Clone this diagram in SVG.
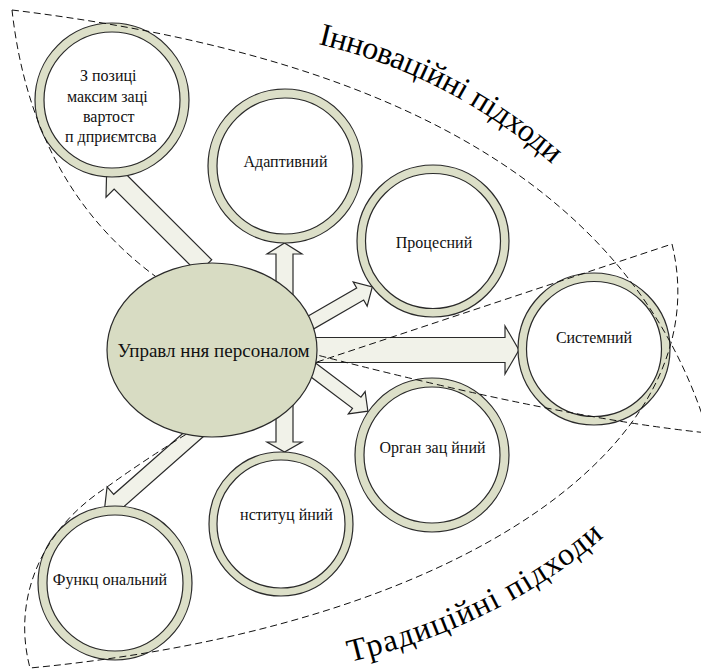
<svg xmlns="http://www.w3.org/2000/svg" width="701" height="670" viewBox="0 0 701 670" font-family="Liberation Serif, Tinos, Times New Roman, Times, DejaVu Serif, Noto Serif, FreeSerif, serif">
<style>
.ring{fill:#dcdfc8;stroke:#2a2a2a;stroke-width:1.2}
.inner{fill:#ffffff;stroke:#2a2a2a;stroke-width:1.2}
.arr{fill:#f1f2e9;stroke:#2a2a2a;stroke-width:1.2}
.dash{fill:none;stroke:#111;stroke-width:1;stroke-dasharray:7 4}
.lbl{font-size:16px;fill:#111}
.mid{text-anchor:middle}
.big{font-size:32px;fill:#000}
</style>
<defs>
<path id="pInn" d="M318,44 Q462,78 572,182"/>
<path id="pTrad" d="M350,662 Q508,624 614,528"/>
</defs>
<g id="connectors">
<polygon class="arr" points="0,-9.5 119,-9.5 119,-21 139,0 119,21 119,9.5 0,9.5" transform="translate(205,266.5) rotate(225)"/>
<polygon class="arr" points="0,-8.5 46,-8.5 46,-17.5 57,0 46,17.5 46,8.5 0,8.5" transform="translate(284.5,300) rotate(-90)"/>
<polygon class="arr" points="0,-7 66,-7 66,-14 80,0 66,14 66,7 0,7" transform="translate(303,327) rotate(-30)"/>
<polygon class="arr" points="0,-12.5 205,-12.5 205,-24 219,0 205,24 205,12.5 0,12.5" transform="translate(300,350)"/>
<polygon class="arr" points="0,-7 66,-7 66,-14 80,0 66,14 66,7 0,7" transform="translate(304,363) rotate(37)"/>
<polygon class="arr" points="0,-8.5 42,-8.5 42,-17.5 52,0 42,17.5 42,8.5 0,8.5" transform="translate(284.5,400) rotate(90)"/>
<polygon class="arr" points="0,-8 132,-8 132,-18 152,0 132,18 132,8 0,8" transform="translate(218,413) rotate(138.6)"/>
</g>
<g id="n-pozytsii">
<circle class="ring" cx="112" cy="100" r="77"/><circle class="inner" cx="112" cy="100" r="68"/>
<text class="lbl" x="80" y="81">З позиці</text>
<text class="lbl" x="67" y="102">максим заці</text>
<text class="lbl" x="83" y="122">вартост</text>
<text class="lbl" x="65" y="142">п дприємтсва</text>
</g>
<g id="n-adaptyvnyi">
<circle class="ring" cx="285" cy="166" r="77"/><circle class="inner" cx="285" cy="166" r="68"/>
<text class="lbl mid" x="285.5" y="167">Адаптивний</text>
</g>
<g id="n-protsesnyi">
<circle class="ring" cx="433" cy="241" r="76"/><circle class="inner" cx="433" cy="241" r="67.5"/>
<text class="lbl mid" x="434" y="248">Процесний</text>
</g>
<g id="n-systemnyi">
<circle class="ring" cx="594" cy="349" r="76"/><circle class="inner" cx="594" cy="349" r="67.5"/>
<text class="lbl mid" x="594" y="343">Системний</text>
</g>
<g id="n-orhanizatsiinyi">
<circle class="ring" cx="432" cy="455" r="77"/><circle class="inner" cx="432" cy="455" r="68"/>
<text class="lbl mid" x="432.5" y="453">Орган зац йний</text>
</g>
<g id="n-instytutsiinyi">
<circle class="ring" cx="281" cy="524" r="72"/><circle class="inner" cx="281" cy="524" r="64"/>
<text class="lbl mid" x="286.5" y="520">нституц йний</text>
</g>
<g id="n-funktsionalnyi">
<circle class="ring" cx="115" cy="583" r="77"/><circle class="inner" cx="115" cy="583" r="68"/>
<text class="lbl mid" x="110" y="585">Функц ональний</text>
</g>
<g id="zones">
<path class="dash" d="M12,10 C300,45 620,140 708,433 Q560,418 317,355 C220,320 40,260 12,10"/>
<path class="dash" d="M317,362 L672,244 C720,440 470,626 30,668 C12,600 40,530 107,487 Q200,420 317,362"/>
</g>
<g id="n-upravlinnia">
<ellipse cx="212" cy="350" rx="105" ry="87" fill="#d8dcc3" stroke="#2a2a2a" stroke-width="1.2"/>
<text class="mid" x="213.5" y="357" font-size="19" fill="#111">Управл ння персоналом</text>
</g>
<g id="labels">
<text class="big"><textPath href="#pInn" textLength="266" lengthAdjust="spacing">Інноваційні підходи</textPath></text>
<text class="big"><textPath href="#pTrad" textLength="286" lengthAdjust="spacing">Традиційні підходи</textPath></text>
</g>
</svg>
